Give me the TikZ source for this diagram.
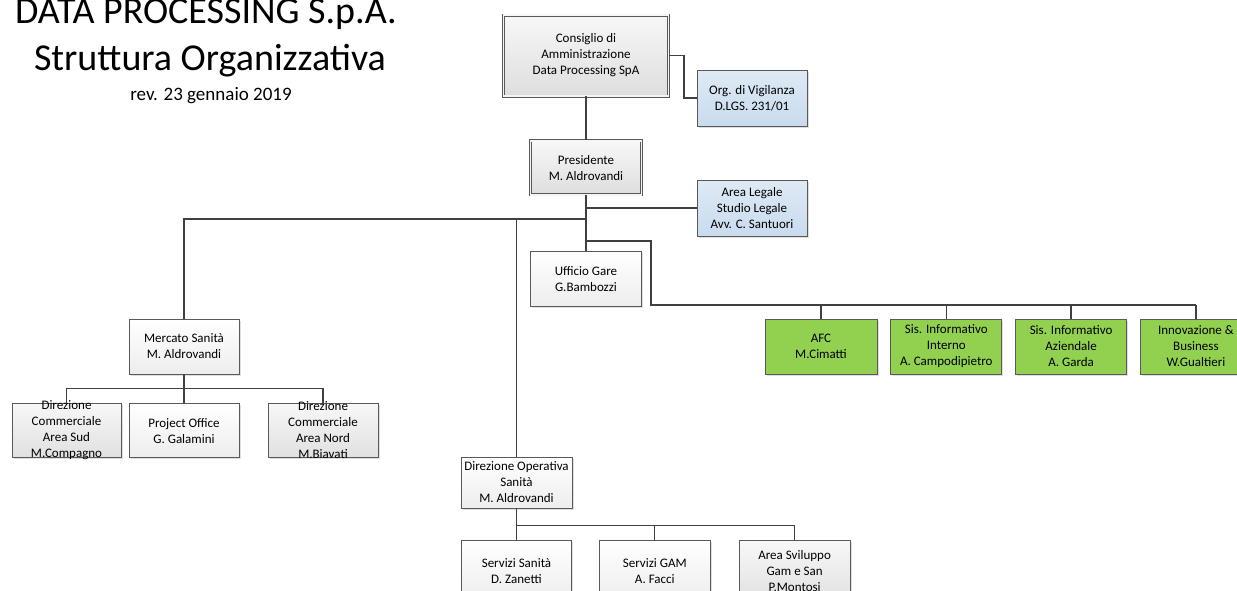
\documentclass[tikz,border=0pt]{standalone}
\usepackage{fontspec}
\setmainfont{Carlito}
\usetikzlibrary{positioning, shadows}

\definecolor{verde}{RGB}{146,208,80}
\definecolor{azzurro}{RGB}{200,219,238}
\definecolor{bordo}{RGB}{89,89,89}
\definecolor{linea}{RGB}{64,64,64}

\begin{document}
\begin{tikzpicture}[x=1pt, y=-1pt, node distance=13pt,
  testo/.style={align=center, font=\fontsize{13}{16}\selectfont},
  box/.style={rectangle, testo, minimum width=111pt, minimum height=55pt, inner sep=1pt, draw=bordo, line width=0.8pt},
  ombra/.style={drop shadow={opacity=0.25, shadow xshift=1.5pt, shadow yshift=-1.5pt}},
  bianco/.style={box, ombra, top color=white, bottom color=gray!14},
  grigio/.style={box, ombra, top color=gray!6, bottom color=gray!24},
  doppio/.style={box, ombra, top color=gray!6, bottom color=gray!26, double=gray!8, double distance=1.6pt, line width=0.7pt},
  blu/.style={box, ombra, top color=azzurro!60, bottom color=azzurro},
  verdino/.style={box, ombra, fill=verde},
  conn/.style={draw=linea, line width=1.3pt},
  connspesso/.style={draw=linea, line width=2.2pt},
  titolo/.style={anchor=base, inner sep=0pt}]

  \useasboundingbox (0,0) rectangle (1237,590);
  \clip (0,0) rectangle (1237,590);

  \node (tit1) [titolo, font=\fontsize{38}{40}\selectfont] at (206,23) {DATA PROCESSING S.p.A.};
  \node (tit2) [titolo, font=\fontsize{38}{40}\selectfont] at (210,70) {Struttura Organizzativa};
  \node (rev) [titolo, font=\fontsize{19}{22}\selectfont] at (211,100) {rev. 23 gennaio 2019};

  \node (cda) [doppio, minimum width=165pt, minimum height=81pt] at (586,55.5) {Consiglio di\\Amministrazione\\Data Processing SpA};
  \node (pres) [doppio, minimum height=54pt, below=44pt of cda] {Presidente\\M. Aldrovandi};
  \node (odv) [blu, minimum width=110pt, minimum height=56pt] at (752,98) {Org. di Vigilanza\\D.LGS. 231/01};
  \node (legale) [blu, minimum width=110pt, minimum height=56pt] at (752,208) {Area Legale\\Studio Legale\\Avv. C. Santuori};
  \node (gare) [bianco, below=56pt of pres] {Ufficio Gare\\G.Bambozzi};

  \node (afc) [verdino, minimum width=112pt] at (821,346.5) {AFC\\M.Cimatti};
  \node (sii) [verdino, right=of afc] {Sis. Informativo\\Interno\\A. Campodipietro};
  \node (sia) [verdino, right=of sii] {Sis. Informativo\\Aziendale\\A. Garda};
  \node (inno) [verdino, right=of sia] {Innovazione \&\\Business\\W.Gualtieri};

  \node (mercato) [bianco, minimum width=110pt] at (184,346.5) {Mercato Sanità\\M. Aldrovandi};
  \node (po) [bianco, minimum width=110pt, minimum height=54pt, below=29pt of mercato] {Project Office\\G. Galamini};
  \node (sud) [grigio, minimum width=109pt, minimum height=54pt,
    label={[testo]center:Direzione\\Commerciale\\Area Sud\\M.Compagno}] at (66.5,430) {};
  \node (nord) [grigio, minimum width=110pt, minimum height=54pt,
    label={[testo]center:Direzione\\Commerciale\\Area Nord\\M.Biavati}] at (323,430) {};

  \node (dirop) [bianco, minimum height=51pt] at (516.5,482.5) {Direzione Operativa\\Sanità\\M. Aldrovandi};
  \node (sanita) [bianco, minimum width=110pt, minimum height=60pt, below=32pt of dirop] {Servizi Sanità\\D. Zanetti};
  \node (gam) [bianco, minimum height=60pt, right=27pt of sanita] {Servizi GAM\\A. Facci};
  \node (svil) [grigio, minimum height=60pt, right=28pt of gam] {Area Sviluppo\\Gam e San\\P.Montosi};

  \coordinate[below=24pt of pres.south] (sx);
  \coordinate[below=46pt of pres.south] (dx);
  \coordinate (busverde) at (651,305);
  \coordinate[below=14pt of mercato.south] (busmerc);
  \coordinate[below=17pt of dirop.south] (busop);

  \draw[conn] (cda.south) -- (pres.north);
  \draw[conn] (cda.east) -- ++(15,0) |- (odv.west);
  \draw[connspesso] (pres.south) -- (gare.north);
  \draw[conn] (legale.west) -- (legale.west -| pres.south);
  \draw[conn] (sx) -| (mercato.north);
  \draw[conn] (dirop.north) -- (dirop.north |- sx);
  \draw[connspesso] (dx) -| (busverde) -- (busverde -| inno.north);
  \foreach \n in {afc, sii, sia, inno}
    \draw[conn] (\n.north) -- (\n.north |- busverde);
  \draw[conn] (mercato.south) -- (po.north);
  \draw[conn] (sud.north) |- (busmerc) -| (nord.north);
  \draw[conn] (dirop.south) -- (sanita.north);
  \draw[conn] (sanita.north) |- (busop) -| (svil.north);
  \draw[conn] (gam.north) -- (gam.north |- busop);
\end{tikzpicture}
\end{document}
